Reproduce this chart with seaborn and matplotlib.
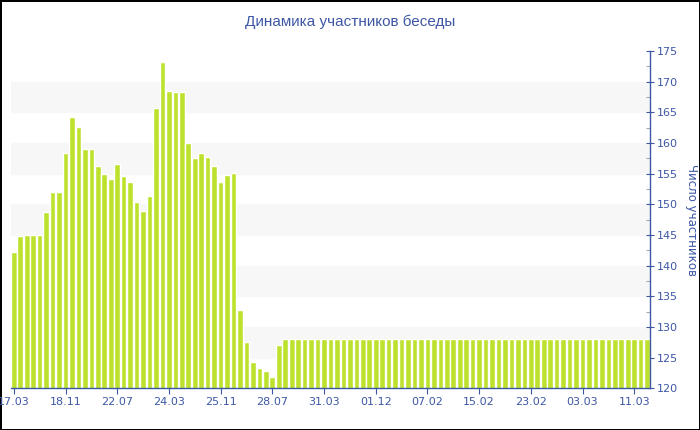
import matplotlib
matplotlib.use('Agg')
import matplotlib.pyplot as plt
import pandas as pd
import seaborn as sns
from matplotlib.ticker import MultipleLocator

# число участников по дням
values = [142.2, 144.8, 145.0, 145.0, 145.0, 148.8, 152.0, 152.0, 158.4, 164.3,
          162.7, 159.0, 159.0, 156.3, 154.9, 154.2, 156.6, 154.6, 153.6, 150.4,
          148.9, 151.4, 165.8, 173.3, 168.5, 168.3, 168.3, 160.0, 157.5, 158.4,
          157.8, 156.3, 153.7, 154.8, 155.1, 132.8, 127.6, 124.3, 123.3, 122.8,
          121.9, 127.0] + [128.0] * 57
tick_labels = ['17.03', '18.11', '22.07', '24.03', '25.11', '28.07', '31.03',
               '01.12', '07.02', '15.02', '23.02', '03.03', '11.03']
tick_step = 8

df = pd.DataFrame({'day': range(len(values)), 'count': values})

blue = '#3d57a5'
sns.set_style('white')
plt.rcParams['font.family'] = ['DejaVu Sans']

fig = plt.figure(figsize=(7, 4.3), dpi=100, edgecolor='black', linewidth=2)
ax = fig.add_axes([0.0151, 0.097, 0.914, 0.784])

# светлые полосы фона
for lo in range(125, 170, 10):
    ax.axhspan(lo, lo + 5, color='#f7f7f7', zorder=0)

sns.barplot(data=df, x='day', y='count', color='#bde22e', saturation=1,
            width=0.87, ax=ax, zorder=2)

ax.set_xlim(-0.5, len(values) - 0.5)
ax.set_ylim(120, 175)
ax.set_xticks(range(0, len(values), tick_step))
ax.set_xticklabels(tick_labels)
ax.set_xlabel('')

ax.yaxis.tick_right()
ax.yaxis.set_label_position('right')
ax.yaxis.set_major_locator(MultipleLocator(5))
ax.yaxis.set_minor_locator(MultipleLocator(2.5))
ax.set_ylabel('Число участников', rotation=270, color=blue, fontsize=8.5)
ax.yaxis.set_label_coords(1.075, 0.5)

for s in ['left', 'top']:
    ax.spines[s].set_visible(False)
for s in ['right', 'bottom']:
    ax.spines[s].set_color(blue)
    ax.spines[s].set_linewidth(1)

ax.tick_params(axis='y', which='major', direction='inout', length=6, width=0.8,
               colors=blue, labelsize=8, pad=2, right=True, left=False)
ax.tick_params(axis='y', which='minor', direction='in', length=3, width=0.8,
               colors='#a0a8c0', right=True, left=False)
ax.tick_params(axis='x', direction='out', length=4, width=0.8, colors=blue,
               labelsize=8, pad=2, bottom=True)

fig.text(0.5, 1 - 22 / 430, 'Динамика участников беседы', ha='center', va='center',
         color=blue, fontsize=11, family=['Liberation Sans', 'DejaVu Sans'])

fig.savefig('out.png', dpi=100, edgecolor=fig.get_edgecolor())
